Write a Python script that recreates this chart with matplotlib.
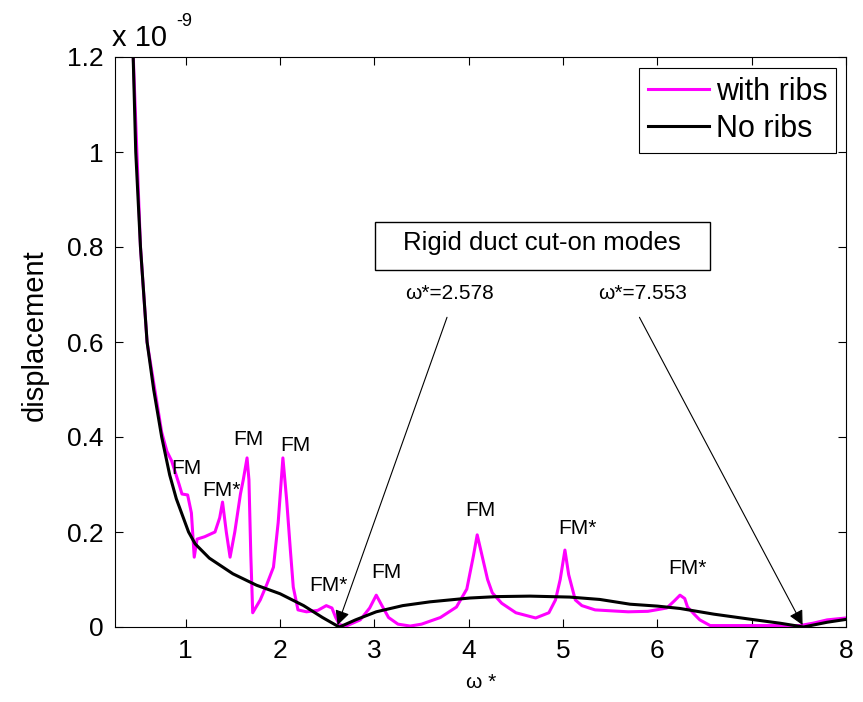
import matplotlib
matplotlib.use("Agg")
import matplotlib.pyplot as plt
from matplotlib.patches import Rectangle

plt.rcParams['font.family'] = ['Liberation Sans', 'DejaVu Sans']

# frequency axis (omega*) and displacement in units of 1e-9
x_noribs = [0.44, 0.47, 0.52, 0.59, 0.66, 0.745, 0.83, 0.9, 1.03, 1.1, 1.25, 1.5, 1.75,
            2.0, 2.25, 2.45, 2.6, 2.63, 2.8, 3.02, 3.3, 3.59, 4.01, 4.3, 4.65, 5.07,
            5.39, 5.71, 6.0, 6.24, 6.6, 7.0, 7.3, 7.55, 7.8, 8.0]
y_noribs = [1.22, 1.0, 0.8, 0.6, 0.5, 0.4, 0.32, 0.27, 0.2, 0.175, 0.145, 0.112, 0.088,
            0.07, 0.045, 0.02, 0.003, 0.0, 0.015, 0.032, 0.045, 0.053, 0.061, 0.064, 0.065, 0.063,
            0.058, 0.048, 0.044, 0.039, 0.027, 0.016, 0.008, 0.0, 0.01, 0.016]

x_ribs = [0.44, 0.52, 0.59, 0.745, 0.8, 0.85, 0.93, 0.96, 1.02, 1.06, 1.09, 1.12, 1.2,
          1.31, 1.36, 1.39, 1.43, 1.47, 1.52, 1.58, 1.61, 1.65, 1.67, 1.69, 1.71, 1.79,
          1.86, 1.93, 1.98, 2.03, 2.07, 2.11, 2.14, 2.19, 2.28, 2.4, 2.49, 2.55, 2.59,
          2.63, 2.7, 2.85, 2.95, 3.02, 3.08, 3.15, 3.25, 3.38, 3.5, 3.7, 3.87, 3.98,
          4.05, 4.09, 4.13, 4.2, 4.25, 4.35, 4.5, 4.71, 4.85, 4.92, 4.97, 5.02, 5.06,
          5.13, 5.2, 5.34, 5.69, 5.9, 6.1, 6.18, 6.24, 6.29, 6.32, 6.4, 6.45, 6.56,
          7.0, 7.51, 7.65, 7.8, 8.0]
y_ribs = [1.22, 0.8, 0.6, 0.41, 0.37, 0.35, 0.3, 0.28, 0.278, 0.24, 0.147, 0.185, 0.19,
          0.2, 0.23, 0.263, 0.2, 0.147, 0.2, 0.28, 0.31, 0.356, 0.31, 0.15, 0.03, 0.057,
          0.09, 0.126, 0.22, 0.356, 0.267, 0.16, 0.084, 0.036, 0.032, 0.035, 0.045, 0.04, 0.02,
          0.005, 0.002, 0.015, 0.04, 0.067, 0.045, 0.02, 0.006, 0.002, 0.006, 0.02, 0.042, 0.08,
          0.15, 0.194, 0.16, 0.1, 0.072, 0.05, 0.03, 0.019, 0.03, 0.057, 0.1, 0.162, 0.11,
          0.057, 0.045, 0.036, 0.032, 0.033, 0.04, 0.055, 0.067, 0.06, 0.042, 0.025, 0.015, 0.003,
          0.003, 0.003, 0.008, 0.015, 0.019]

# mode labels
fm_labels = ["FM", "FM*", "FM", "FM", "FM*", "FM", "FM", "FM*", "FM*"]
fm_x = [1.01, 1.38, 1.66, 2.16, 2.51, 3.13, 4.12, 5.15, 6.32]
fm_y = [0.333, 0.288, 0.394, 0.383, 0.088, 0.114, 0.246, 0.208, 0.124]

# rigid duct cut-on frequencies
cuton_w = [2.578, 7.553]
cuton_tip = [2.61, 7.54]
cuton_text_x = [3.80, 5.84]

fig = plt.figure(figsize=(8.63, 7.02), dpi=100)
ax = fig.add_axes([115 / 863, 1 - 627 / 702, 731 / 863, 570 / 702])

ax.plot(x_ribs, y_ribs, color="#ff00ff", lw=2.2, label="with ribs")
ax.plot(x_noribs, y_noribs, color="black", lw=2.2, label="No ribs")

ax.set_xlim(0.25, 8)
ax.set_ylim(0, 1.2)
ax.set_xticks(range(1, 9))
ax.set_yticks([0, 0.2, 0.4, 0.6, 0.8, 1.0, 1.2])
ax.set_yticklabels(["0", "0.2", "0.4", "0.6", "0.8", "1", "1.2"])
ax.tick_params(direction="in", top=True, right=True, length=6, width=0.8, labelsize=19)
ax.tick_params(axis="y", pad=8)
ax.tick_params(axis="x", pad=9)
for s in ax.spines.values():
    s.set_linewidth(0.8)

ax.set_ylabel("displacement", fontsize=21)
ax.yaxis.set_label_coords(-66 / 731, (627 - 335) / 570)
fig.text(481 / 863, 1 - 683 / 702, "ω *", fontsize=15, ha="center", va="center")

# exponent text
fig.text(112 / 863, 1 - 46 / 702, "x 10", fontsize=21, ha="left", va="baseline")
fig.text(176 / 863, 1 - 26 / 702, "-9", fontsize=13, ha="left", va="baseline")

for lab, fx, fy in zip(fm_labels, fm_x, fm_y):
    ax.text(fx, fy, lab, fontsize=15, ha="center", va="center")

ax.add_patch(Rectangle((260 / 731, 357 / 570), 335 / 731, 48 / 570, transform=ax.transAxes,
                       fc="white", ec="black", lw=1.0, zorder=3))
ax.text(4.78, 0.808, "Rigid duct cut-on modes", fontsize=18.5, ha="center", va="center", zorder=4)

for w, tip, tx in zip(cuton_w, cuton_tip, cuton_text_x):
    ax.text(tx, 0.703, "ω*=%.3f" % w, fontsize=15, ha="center", va="center")
    ax.annotate("", xy=(tip, 0.004), xytext=(tx - 0.03, 0.652),
                arrowprops=dict(arrowstyle="-|>", color="black", lw=0.8,
                                mutation_scale=22, shrinkA=0, shrinkB=0))

leg = ax.legend(loc="upper right", bbox_to_anchor=(0.987, 0.981), borderaxespad=0,
                fontsize=22, handlelength=2.0, handletextpad=0.22, labelspacing=0.22,
                borderpad=0.3, fancybox=False, framealpha=1, edgecolor="black")
leg.get_frame().set_linewidth(0.8)

plt.savefig("out.png", dpi=100)
